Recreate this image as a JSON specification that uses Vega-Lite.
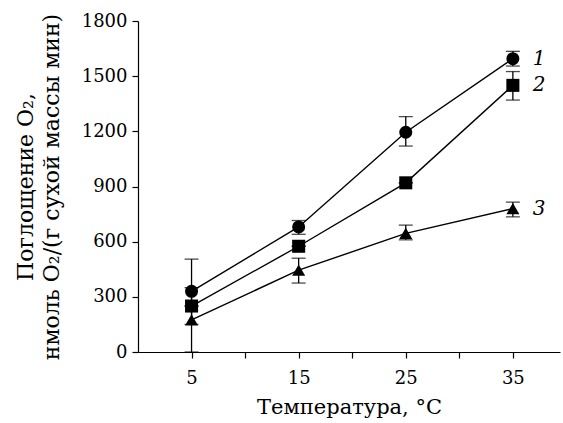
{
  "$schema": "https://vega.github.io/schema/vega-lite/v6.json",
  "autosize": "none",
  "padding": {"left": 138, "top": 21, "right": 3, "bottom": 71},
  "width": 422,
  "height": 331,
  "background": "white",
  "config": {
    "view": {"stroke": null},
    "font": "DejaVu Serif",
    "axis": {
      "domainColor": "black", "tickColor": "black", "labelColor": "black", "titleColor": "black",
      "labelFont": "DejaVu Serif", "titleFont": "DejaVu Serif",
      "labelFontSize": 18, "titleFontSize": 21, "titleFontWeight": "normal",
      "grid": false, "tickSize": 6, "domainWidth": 1.2, "tickWidth": 1.2
    }
  },
  "data": {
    "values": [
      {"s": "1", "t": 5, "v": 330, "lo": 150, "hi": 505},
      {"s": "1", "t": 15, "v": 680, "lo": 640, "hi": 715},
      {"s": "1", "t": 25, "v": 1195, "lo": 1120, "hi": 1280},
      {"s": "1", "t": 35, "v": 1595, "lo": 1555, "hi": 1635},
      {"s": "2", "t": 5, "v": 250, "lo": 250, "hi": 250},
      {"s": "2", "t": 15, "v": 575, "lo": 575, "hi": 575},
      {"s": "2", "t": 25, "v": 920, "lo": 920, "hi": 920},
      {"s": "2", "t": 35, "v": 1450, "lo": 1370, "hi": 1525},
      {"s": "3", "t": 5, "v": 175, "lo": 0, "hi": 350},
      {"s": "3", "t": 15, "v": 445, "lo": 375, "hi": 510},
      {"s": "3", "t": 25, "v": 645, "lo": 610, "hi": 690},
      {"s": "3", "t": 35, "v": 780, "lo": 735, "hi": 815}
    ]
  },
  "encoding": {
    "x": {
      "field": "t", "type": "quantitative",
      "scale": {"domain": [0, 39.4], "nice": false, "zero": false},
      "axis": {
        "title": "Температура, °C",
        "values": [5, 10, 15, 20, 25, 30, 35],
        "labelExpr": "datum.value % 10 == 5 ? datum.label : ''",
        "labelPadding": 11, "titlePadding": 9
      }
    },
    "y": {
      "field": "v", "type": "quantitative",
      "scale": {"domain": [0, 1800], "nice": false},
      "axis": {
        "title": ["Поглощение O₂,", "нмоль O₂/(г сухой массы мин)"],
        "titleFontSize": 22,
        "format": "d",
        "values": [0, 300, 600, 900, 1200, 1500, 1800],
        "labelPadding": 5, "titlePadding": 18, "titleLineHeight": 26
      }
    }
  },
  "layer": [
    {
      "mark": {"type": "rule", "color": "black", "strokeWidth": 1.3},
      "encoding": {"y": {"field": "lo", "type": "quantitative"}, "y2": {"field": "hi"}}
    },
    {
      "mark": {"type": "tick", "orient": "horizontal", "color": "black", "size": 14, "thickness": 1.3},
      "encoding": {"y": {"field": "lo", "type": "quantitative"}}
    },
    {
      "mark": {"type": "tick", "orient": "horizontal", "color": "black", "size": 14, "thickness": 1.3},
      "encoding": {"y": {"field": "hi", "type": "quantitative"}}
    },
    {
      "mark": {"type": "line", "color": "black", "strokeWidth": 1.4},
      "encoding": {"detail": {"field": "s"}}
    },
    {
      "mark": {"type": "point", "filled": true, "color": "black", "opacity": 1, "size": 170},
      "encoding": {
        "shape": {"field": "s", "type": "nominal", "scale": {"domain": ["1", "2", "3"], "range": ["circle", "square", "triangle-up"]}, "legend": null}
      }
    },
    {
      "transform": [{"filter": "datum.t == 35"}],
      "mark": {"type": "text", "align": "left", "baseline": "middle", "dx": 20, "fontStyle": "italic", "fontSize": 20, "font": "DejaVu Serif", "color": "black"},
      "encoding": {"text": {"field": "s"}}
    }
  ]
}
